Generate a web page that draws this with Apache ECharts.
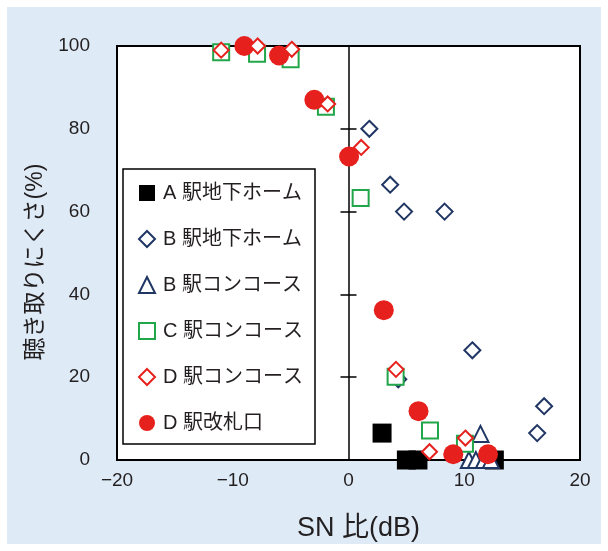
<!DOCTYPE html>
<html>
<head>
<meta charset="utf-8">
<script src="https://cdn.jsdelivr.net/npm/echarts@6/dist/echarts.min.js"></script>
<style>
  html, body { margin: 0; padding: 0; background: #fff; }
  #chart { width: 608px; height: 551px; }
</style>
</head>
<body>
<div id="chart"></div>
<script>
// Listening difficulty (%) versus SN ratio (dB), by station and location
const seriesNames = ['A 駅地下ホーム', 'B 駅地下ホーム', 'B 駅コンコース', 'C 駅コンコース', 'D 駅コンコース', 'D 駅改札口'];

// [SN ratio (dB), difficulty (%)]
const stationA_platform = [[2.9, 6.5], [5.0, 0], [6.0, 0], [12.6, 0]];
const stationB_platform = [[1.8, 80], [3.6, 66.5], [4.8, 60], [8.3, 60], [4.3, 19.5], [10.7, 26.5], [16.9, 13], [16.3, 6.5]];
const stationB_concourse = [[11.4, 6.3], [10.4, 0], [11.0, 0], [11.7, 0], [12.3, 0]];
const stationC_concourse = [[-11, 98.5], [-7.9, 98.1], [-5, 96.8], [-1.95, 85.3], [1.05, 63.3], [4.07, 20.1], [7.04, 7.1], [10.06, 3.9]];
const stationD_concourse = [[-11, 99], [-7.85, 100], [-4.9, 99.2], [-1.8, 86], [1.1, 75.5], [4.1, 21.9], [7.0, 2.0], [10.1, 5.3]];
const stationD_gate = [[-9, 100], [-6, 97.7], [-2.95, 87], [0.05, 73.3], [3.05, 36.2], [6.05, 11.8], [9.05, 1.4], [12.05, 1.4]];

const xTicks = { min: -20, max: 20, interval: 10 };
const yTicks = { min: 0, max: 100, interval: 20 };

const textColor = '#231f20';
const navy = '#1f3563';
const green = '#22a64a';
const red = '#e6211d';
const latinFont = '"Liberation Sans", "Noto Sans CJK JP", sans-serif';

const chart = echarts.init(document.getElementById('chart'), null, { renderer: 'canvas' });

function hollow(color, width) {
  return { color: '#ffffff', borderColor: color, borderWidth: width, opacity: 1 };
}

const valueX = () => ({ type: 'value', min: xTicks.min, max: xTicks.max, interval: xTicks.interval });
const valueY = () => ({ type: 'value', min: yTicks.min, max: yTicks.max, interval: yTicks.interval });

const option = {
  backgroundColor: '#ffffff',
  animation: false,
  graphic: [{
    type: 'rect', z: -10, silent: true,
    shape: { x: 7, y: 7, width: 594, height: 537 },
    style: { fill: '#deebf7' }
  }],
  grid: {
    left: 117, right: 28, top: 46, bottom: 91,
    show: true, backgroundColor: '#ffffff', borderColor: '#000', borderWidth: 2
  },
  legend: {
    orient: 'vertical',
    left: 123, top: 169,
    padding: [14, 12, 11, 15],
    itemGap: 26,
    itemWidth: 16, itemHeight: 16,
    backgroundColor: '#ffffff',
    borderColor: '#000', borderWidth: 1.5,
    textStyle: { fontSize: 20, lineHeight: 20, color: textColor, fontFamily: latinFont, padding: [0, 0, 0, 3] },
    data: seriesNames
  },
  xAxis: [
    Object.assign(valueX(), {
      axisLine: { show: false },
      axisTick: { show: false },
      splitLine: { show: false },
      axisLabel: {
        fontSize: 19, color: textColor, fontFamily: latinFont, margin: 11,
        formatter: v => (v < 0 ? '\u2212' + Math.abs(v) : String(v))
      },
      name: 'SN 比(dB)', nameLocation: 'middle', nameGap: 55,
      nameTextStyle: { fontSize: 27, color: textColor, fontFamily: latinFont, padding: [0, 0, 0, 20] }
    }),
    // hidden twin so a second vertical axis can sit at SN = 0
    Object.assign(valueX(), { show: false })
  ],
  yAxis: [
    Object.assign(valueY(), {
      position: 'left',
      axisLine: { show: false, onZero: false },
      axisTick: { show: false },
      splitLine: { show: false },
      axisLabel: { fontSize: 19, color: textColor, fontFamily: latinFont, margin: 27 },
      name: '聴き取りにくさ(%)', nameLocation: 'middle', nameGap: 67,
      nameTextStyle: { fontSize: 23, color: textColor, fontFamily: latinFont, padding: [0, 18, 0, 0] }
    }),
    Object.assign(valueY(), {
      // vertical line at SN = 0 with ticks on one side
      axisLine: { show: true, onZero: true, lineStyle: { color: '#000', width: 1.5 } },
      axisTick: { show: true, inside: false, length: 8, lineStyle: { color: '#000', width: 1.5 } },
      axisLabel: { show: false },
      splitLine: { show: false }
    }),
    Object.assign(valueY(), {
      // same line, ticks on the other side so they cross it
      axisLine: { show: false, onZero: true },
      axisTick: { show: true, inside: true, length: 8, lineStyle: { color: '#000', width: 1.5 } },
      axisLabel: { show: false },
      splitLine: { show: false }
    })
  ],
  series: [
    {
      name: seriesNames[0], type: 'scatter', clip: false, data: stationA_platform,
      symbol: 'rect', symbolSize: 19, itemStyle: { color: '#000', opacity: 1 }
    },
    {
      name: seriesNames[1], type: 'scatter', clip: false, data: stationB_platform,
      symbol: 'diamond', symbolSize: 16, itemStyle: hollow(navy, 2)
    },
    {
      name: seriesNames[2], type: 'scatter', clip: false, data: stationB_concourse,
      symbol: 'triangle', symbolSize: 16, itemStyle: hollow(navy, 2)
    },
    {
      name: seriesNames[3], type: 'scatter', clip: false, data: stationC_concourse,
      symbol: 'rect', symbolSize: 16, itemStyle: hollow(green, 2)
    },
    {
      name: seriesNames[5], type: 'scatter', clip: false, data: stationD_gate,
      symbol: 'circle', symbolSize: 20, itemStyle: { color: red, opacity: 1 }
    },
    {
      name: seriesNames[4], type: 'scatter', clip: false, data: stationD_concourse,
      symbol: 'diamond', symbolSize: 15, itemStyle: hollow(red, 2)
    }
  ]
};

chart.setOption(option);
</script>
</body>
</html>
